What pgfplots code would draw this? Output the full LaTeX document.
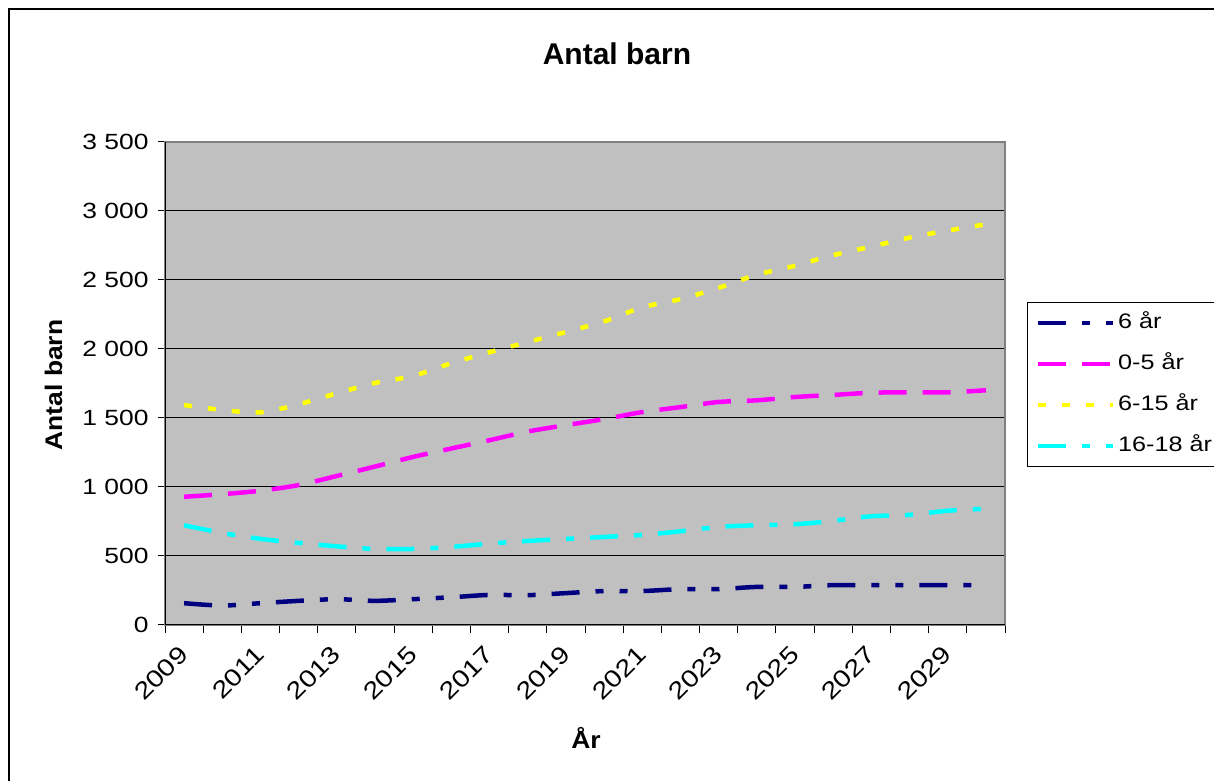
\documentclass[border=0pt]{standalone}
\usepackage{pgfplots}
\pgfplotsset{compat=1.18}
\usepackage{pgfplotstable}
\usepackage{fontspec}
\setmainfont{Liberation Sans}
\newfontfamily\stretchfont{Liberation Sans}[FakeStretch=1.2]
\newfontfamily\labfont{Liberation Sans}[FakeStretch=1.1]
\definecolor{plotgray}{HTML}{C0C0C0}
\definecolor{navyc}{HTML}{000080}
\definecolor{magc}{HTML}{FF00FF}
\definecolor{yelc}{HTML}{FFFF00}
\definecolor{cyac}{HTML}{00FFFF}
\definecolor{framegray}{HTML}{808080}

\pgfplotstableread{
x sex noll sexton sexton18
0  158  929 1594 723
1  141  948 1558 667
2  158  973 1541 624
3  175 1014 1599 595
4  187 1080 1679 570
5  175 1148 1754 551
6  187 1218 1805 551
7  201 1279 1897 566
8  218 1339 1977 590
9  216 1402 2050 609
10 231 1448 2123 624
11 246 1492 2200 638
12 246 1543 2302 653
13 260 1579 2361 679
14 260 1616 2443 711
15 276 1628 2538 723
16 276 1652 2603 730
17 289 1667 2680 755
18 289 1683 2742 788
19 289 1686 2807 798
20 289 1686 2858 828
21 289 1701 2904 842
}\data

\begin{document}
\begin{tikzpicture}[x=1bp,y=1bp]
\useasboundingbox (0,0) rectangle (1214,781);
\fill[white] (0,0) rectangle (1214,781);
\draw[black, line width=1.5bp] (9,-10) -- (9,772) -- (1230,772);
\node[font=\bfseries\fontsize{30bp}{36bp}\selectfont, anchor=base] at (617,716) {Antal barn};
\node[font=\labfont\bfseries\fontsize{24bp}{28bp}\selectfont, anchor=base, rotate=90] at (62,396) {Antal barn};
\node[font=\labfont\bfseries\fontsize{24bp}{28bp}\selectfont, anchor=base] at (586,32) {År};
\begin{axis}[
  at={(165bp,156bp)}, anchor=south west,
  scale only axis, width=840bp, height=483bp,
  xmin=-0.5, xmax=21.5, ymin=0, ymax=3500,
  axis background/.style={fill=plotgray},
  axis line style={draw=framegray, line width=1.5bp},
  tick align=outside,
  xtick pos=bottom, ytick pos=left,
  xtick={0,2,...,20},
  xticklabels={2009,2011,2013,2015,2017,2019,2021,2023,2025,2027,2029},
  minor xtick={-0.5,0.5,...,21.5},
  major x tick style={draw=none},
  minor x tick style={black, line width=1bp},
  minor tick length=8bp,
  major tick length=7bp,
  ytick={0,500,...,3500},
  yticklabels={0,500,1 000,1 500,2 000,2 500,3 000,3 500},
  y tick style={black, line width=1bp},
  ymajorgrids,
  major grid style={black, line width=1bp},
  /pgf/number format/assume math mode=true,
  xticklabel style={font=\stretchfont\fontsize{24bp}{28bp}\selectfont, rotate=45, anchor=east, xshift=-10bp, yshift=-13bp},
  yticklabel style={font=\stretchfont\fontsize{22bp}{26bp}\selectfont, xshift=-6bp},
  legend cell align=left,
  legend image code/.code={\draw[#1] (0bp,0bp) -- (75bp,0bp);},
  legend style={at={(axis description cs:1.0262,0.6687)}, anchor=north west,
    draw=black, line width=1.2bp, fill=white, inner sep=8bp, row sep=16bp,
    font=\stretchfont\fontsize{21bp}{25bp}\selectfont,
    nodes={text height=15bp, text depth=4bp, inner sep=3bp}},
  every axis plot/.append style={line width=4.5bp, smooth, tension=0.5},
]
\addplot[navyc, dash pattern=on 28bp off 16bp on 8bp off 16bp on 8bp off 16bp] table[x=x,y=sex] {\data};
\addlegendentry{6 år}
\addplot[magc, dash pattern=on 28bp off 16bp] table[x=x,y=noll] {\data};
\addlegendentry{0-5 år}
\addplot[yelc, dash pattern=on 8bp off 16bp] table[x=x,y=sexton] {\data};
\addlegendentry{6-15 år}
\addplot[cyac, dash pattern=on 28bp off 16bp on 8bp off 16bp] table[x=x,y=sexton18] {\data};
\addlegendentry{16-18 år}
\draw[black, line width=1.5bp] (rel axis cs:0,1) -- (rel axis cs:0,0) -- (rel axis cs:1,0);
\end{axis}
\end{tikzpicture}
\end{document}
